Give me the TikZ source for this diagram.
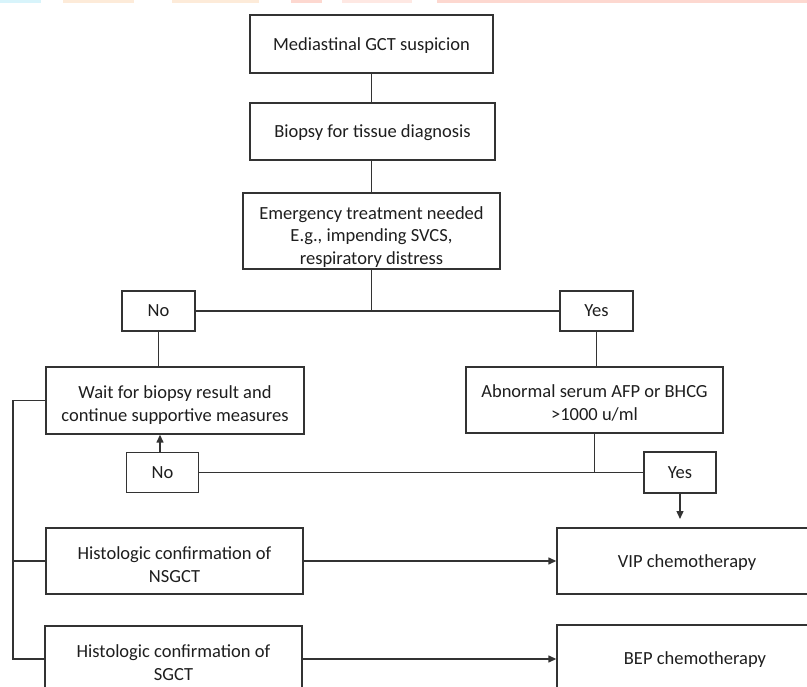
\documentclass[tikz,border=0pt]{standalone}
\usepackage{fontspec}
\setmainfont{Carlito}
\usetikzlibrary{arrows.meta}
\definecolor{linec}{HTML}{333333}
\definecolor{textc}{HTML}{1E1E1E}
\definecolor{stripc}{HTML}{D8F4FB}
\definecolor{stripp}{HTML}{FDEBD9}
\definecolor{stripr}{HTML}{FDD8D0}
\newcommand{\tpad}[1]{\rule{0pt}{#1}}
\begin{document}
\begin{tikzpicture}[x=1pt,y=-1pt,
  box/.style={draw=linec, line width=1.4pt, fill=white, align=center, inner sep=0pt,
    font=\fontsize{18.5}{23}\selectfont, text=textc, text depth=0pt},
  conn/.style={draw=linec, line width=1.4pt},
  arr/.style={conn, -{Triangle[length=8pt,width=7pt]}}]
\useasboundingbox (0,0) rectangle (807,687);
\fill[white] (0,0) rectangle (807,687);
% faint strips at the top edge
\fill[stripc] (0,0) rectangle (41,3);
\fill[stripp] (63,0) rectangle (134,3);
\fill[stripp] (172,0) rectangle (259,3);
\fill[stripr] (291,0) rectangle (322,3);
\fill[stripr!60] (342,0) rectangle (412,3);
\fill[stripr] (437,0) rectangle (807,3);

\node[box, minimum width=243pt, minimum height=58pt] (m) at (371.5,44) {Mediastinal GCT suspicion};
\node[box, minimum width=245pt, minimum height=57pt] (b) at (372.5,131.5) {Biopsy for tissue diagnosis};
\node[box, minimum width=257pt, minimum height=76pt, font=\fontsize{18.5}{22.5}\selectfont] (e) at (371.5,231) {\tpad{22pt}Emergency treatment needed\\E.g., impending SVCS,\\respiratory distress};
\node[box, minimum width=73pt, minimum height=40pt] (no1) at (158.5,311) {No};
\node[box, minimum width=73pt, minimum height=40pt] (yes1) at (596.5,311) {Yes};
\node[box, minimum width=258pt, minimum height=67pt] (w) at (175,400.5) {\tpad{18pt}Wait for biopsy result and\\continue supportive measures};
\node[box, minimum width=257pt, minimum height=66pt] (ab) at (594.5,400) {\tpad{18pt}Abnormal serum AFP or BHCG\\>1000 u/ml};
\node[box, minimum width=72pt, minimum height=40pt] (no2) at (162.5,472.5) {No};
\node[box, minimum width=72pt, minimum height=41pt] (yes2) at (680,472.5) {Yes};
\node[box, minimum width=257pt, minimum height=66pt] (ns) at (174.5,561) {\tpad{19pt}Histologic confirmation of\\NSGCT};
\node[box, minimum width=260pt, minimum height=66pt] (vip) at (687,561) {VIP chemotherapy};
\node[box, minimum width=257pt, minimum height=66pt] (sg) at (173.5,659) {\tpad{19pt}Histologic confirmation of\\SGCT};
\node[box, minimum width=276pt, minimum height=66pt] (bep) at (695,658) {BEP chemotherapy};

\coordinate (yt) at (680,519);
\coordinate (lx) at (13,0);

\draw[conn] (m.south -| 371.5,0) -- (371.5,0 |- b.north);
\draw[conn] (b.south -| 371.5,0) -- (371.5,0 |- e.north);
\draw[conn] (no1.east) -- (yes1.west);
\draw[conn] (e.south) -- (e.south |- no1.east);
\draw[conn] (no1.south) -- (no1.south |- w.north);
\draw[conn] (yes1.south) -- (yes1.south |- ab.north);
\draw[conn] (no2.east) -- (yes2.west);
\draw[conn] (ab.south) -- (ab.south |- yes2.west);
\draw[arr] ([xshift=-2.5pt]no2.north) -- ([xshift=-2.5pt]no2.north |- w.south);
\draw[arr] (yes2.south) -- (yt);
\draw[arr] (ns.east) -- (vip.west);
\draw[arr] (sg.east) -- (sg.east -| bep.west);
\draw[conn] (w.west) -- (w.west -| lx) |- (sg.west);
\draw[conn] (ns.west) -- (ns.west -| lx);
\end{tikzpicture}
\end{document}
